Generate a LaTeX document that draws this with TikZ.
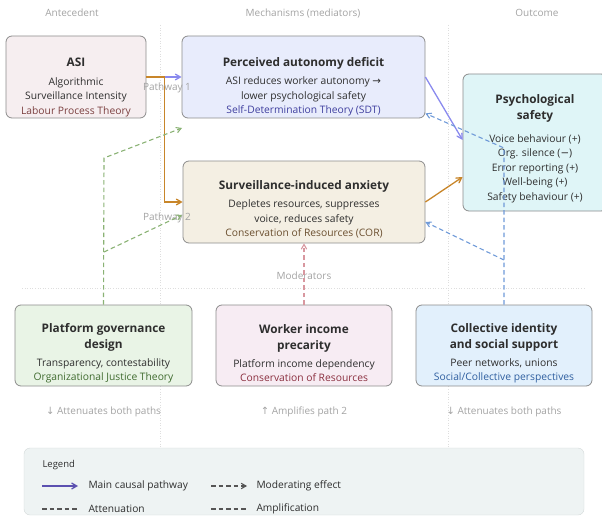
\documentclass[tikz,border=0pt]{standalone}
\usepackage{fontspec}
\setmainfont{Open Sans}
\newfontfamily\symfont{DejaVu Sans}
\usetikzlibrary{arrows}

\definecolor{boxline}{HTML}{8C8C8C}
\definecolor{bodytext}{HTML}{2E2E2E}
\definecolor{headgray}{HTML}{A3A3A3}
\definecolor{gridgray}{HTML}{DEDEDE}
\definecolor{legline}{HTML}{D3D9D9}
\definecolor{asifill}{HTML}{F6EEF0}
\definecolor{autofill}{HTML}{E8ECFC}
\definecolor{anxfill}{HTML}{F4EFE3}
\definecolor{psyfill}{HTML}{DFF5F7}
\definecolor{govfill}{HTML}{E9F4E6}
\definecolor{incfill}{HTML}{F7ECF3}
\definecolor{colfill}{HTML}{E2F0FC}
\definecolor{legfill}{HTML}{EEF3F3}
\definecolor{asitheory}{HTML}{7B3F3F}
\definecolor{autotheory}{HTML}{3F3F9F}
\definecolor{anxtheory}{HTML}{6B4F2F}
\definecolor{govtheory}{HTML}{3F6B2F}
\definecolor{inctheory}{HTML}{8B2F3F}
\definecolor{coltheory}{HTML}{2F5FA0}
\definecolor{pathpurple}{HTML}{8A8AEE}
\definecolor{legpurple}{HTML}{5B50B0}
\definecolor{pathorange}{HTML}{C8862A}
\definecolor{modgreen}{HTML}{8AB274}
\definecolor{modred}{HTML}{D8979F}
\definecolor{modblue}{HTML}{6F9AD8}
\definecolor{leggray}{HTML}{555555}

\newcommand{\ttl}[1]{{\fontsize{11.8}{16}\selectfont\bfseries #1}}
\newcommand{\arw}[1]{{\symfont #1}}

\begin{document}
\begin{tikzpicture}[x=1pt,y=-1pt,>=angle 60,
                    main node/.style={draw=boxline,line width=0.8pt,rounded corners=6pt,inner sep=0pt},
                    box text/.style={align=center,text=bodytext,font=\fontsize{10.3}{14.5}\selectfont},
                    head/.style={text=headgray,font=\fontsize{10}{12}\selectfont},
                    grid line/.style={gridgray,dotted,line width=0.6pt},
                    mod line/.style={->,dash pattern=on 4.5pt off 3pt,line width=1.1pt}]
\useasboundingbox (0,0) rectangle (602,516);

\draw[grid line] (160,25) -- (160,448);
\draw[grid line] (448,25) -- (448,448);
\draw[grid line] (22,288) -- (584,288);

\node[head] (h1) at (72,13) {Antecedent};
\node[head] (h2) at (303,13) {Mechanisms (mediators)};
\node[head] (h3) at (537,13) {Outcome};
\node[head] (h4) at (304,276) {Moderators};

\node[main node,fill=asifill,minimum width=140pt,minimum height=82pt] (1) at (76,77) {};
\node[main node,fill=autofill,minimum width=243pt,minimum height=82pt] (2) at (303.5,77) {};
\node[main node,fill=anxfill,minimum width=242pt,minimum height=82pt] (3) at (304,202) {};
\node[main node,fill=psyfill,minimum width=144pt,minimum height=137pt] (4) at (535,142.5) {};
\node[main node,fill=govfill,minimum width=177pt,minimum height=81pt] (5) at (103.5,345.5) {};
\node[main node,fill=incfill,minimum width=176pt,minimum height=81pt] (6) at (304,345.5) {};
\node[main node,fill=colfill,minimum width=176pt,minimum height=81pt] (7) at (504,345.5) {};

\node[box text] (1a) at ([yshift=-10.5pt]1.center)
  {\ttl{ASI}\\[4pt]Algorithmic\\Surveillance Intensity\\\textcolor{asitheory}{Labour Process Theory}};
\node[box text] (2a) at ([yshift=-9.5pt]2.center)
  {\ttl{Perceived autonomy deficit}\\[4pt]ASI reduces worker autonomy \arw{→}\\lower psychological safety\\\textcolor{autotheory}{Self-Determination Theory (SDT)}};
\node[box text] (3a) at ([yshift=-7.5pt]3.center)
  {\ttl{Surveillance-induced anxiety}\\[4pt]Depletes resources, suppresses\\voice, reduces safety\\\textcolor{anxtheory}{Conservation of Resources (COR)}};
\node[box text] (4a) at ([yshift=-6.5pt]4.center)
  {\ttl{Psychological}\\[1.5pt]\ttl{safety}\\[8pt]Voice behaviour (+)\\Org. silence (\arw{−})\\Error reporting (+)\\Well-being (+)\\Safety behaviour (+)};
\node[box text] (5a) at ([yshift=-8pt]5.center)
  {\ttl{Platform governance}\\[1.5pt]\ttl{design}\\[3pt]Transparency, contestability\\\textcolor{govtheory}{Organizational Justice Theory}};
\node[box text] (6a) at ([yshift=-8pt]6.center)
  {\ttl{Worker income}\\[1.5pt]\ttl{precarity}\\[3pt]Platform income dependency\\\textcolor{inctheory}{Conservation of Resources}};
\node[box text] (7a) at ([yshift=-8pt]7.center)
  {\ttl{Collective identity}\\[1.5pt]\ttl{and social support}\\[3pt]Peer networks, unions\\\textcolor{coltheory}{Social/Collective perspectives}};

\node[head] (n5) at (103.5,412) {\arw{↓} Attenuates both paths};
\node[head] (n6) at (304,412) {\arw{↑} Amplifies path 2};
\node[head] (n7) at (504,412) {\arw{↓} Attenuates both paths};

\coordinate (g1) at (104,158);
\coordinate (g2) at (104,252);
\coordinate (p1) at (182,128);
\coordinate (p2) at (182,215);
\coordinate (b1) at (504,148);
\coordinate (b2) at (504,260);

\path[->,line width=1.3pt]
(1.east) edge[pathpurple] node {} (2.west)
(2.east) edge[pathpurple] node {} ([yshift=2.5pt]4.west)
(3.east) edge[pathorange] node {} ([yshift=-34.5pt]4.west);
\draw[->,pathorange,line width=1.3pt] (1.east) -- ++(18,0) |- (3.west);

\node[head] (l1) at (167,88) {Pathway 1};
\node[head] (l2) at (167,218) {Pathway 2};

\draw[mod line,modgreen] (5.north) -- (g1) -- (p1);
\draw[mod line,modgreen] (g2) -- (p2);
\draw[mod line,modred] (6.north) -- (3.south);
\draw[mod line,modblue] (7.north) -- (b1) -- ([yshift=5pt]2.south east);
\draw[mod line,modblue] (b2) -- ([yshift=-20pt]3.east);

\node[draw=legline,fill=legfill,rounded corners=6pt,minimum width=560pt,minimum height=67pt] (8) at (304,481.5) {};
\node[anchor=west,text=bodytext,font=\fontsize{9.5}{11}\selectfont] (8a) at (39,465) {Legend};
\coordinate (k1) at (42,486);
\coordinate (k2) at (78,486);
\coordinate (k3) at (211,486);
\coordinate (k4) at (247,486);
\coordinate (k5) at (42,509);
\coordinate (k6) at (78,509);
\coordinate (k7) at (211,509);
\coordinate (k8) at (247,509);
\draw[->,legpurple,line width=1.3pt] (k1) -- (k2);
\draw[mod line,leggray] (k3) -- (k4);
\draw[leggray,dash pattern=on 4.5pt off 3pt,line width=1.1pt] (k5) -- (k6);
\draw[leggray,dash pattern=on 4.5pt off 3pt,line width=1.1pt] (k7) -- (k8);
\node[anchor=west,text=bodytext,font=\fontsize{10.2}{12}\selectfont] (8b) at (85,486) {Main causal pathway};
\node[anchor=west,text=bodytext,font=\fontsize{10.2}{12}\selectfont] (8c) at (253,486) {Moderating effect};
\node[anchor=west,text=bodytext,font=\fontsize{10.2}{12}\selectfont] (8d) at (85,509) {Attenuation};
\node[anchor=west,text=bodytext,font=\fontsize{10.2}{12}\selectfont] (8e) at (253,509) {Amplification};
\end{tikzpicture}
\end{document}
